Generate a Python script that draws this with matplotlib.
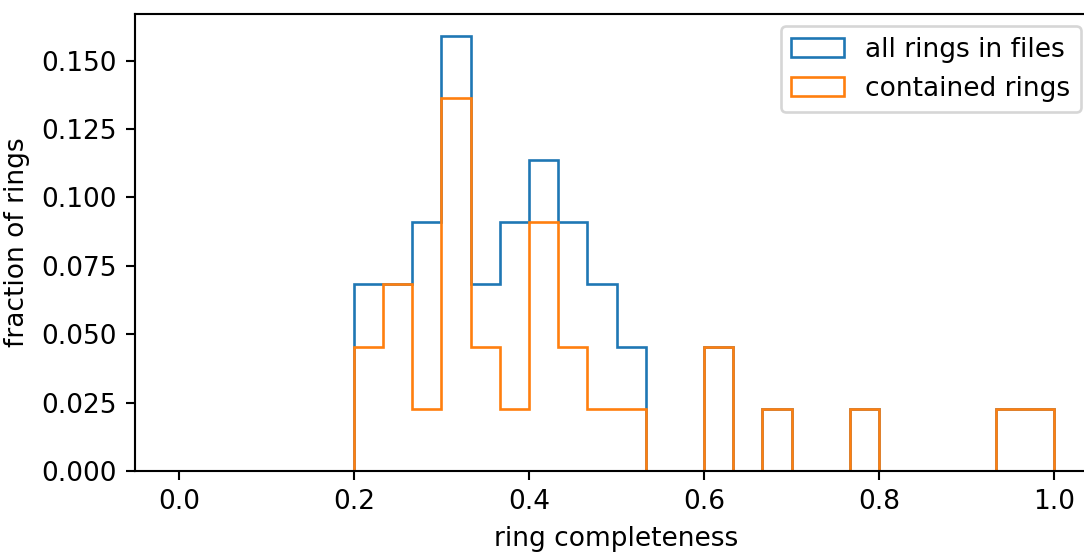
import matplotlib
matplotlib.use("Agg")
import matplotlib.pyplot as plt
import numpy as np

# 30 equal bins on [0, 1], counts (fractions of 44 rings)
N_BINS = 30
TOTAL = 44
all_counts = [0, 0, 0, 0, 0, 0, 3, 3, 4, 7, 3, 4, 5, 4, 3, 2, 0, 0, 2, 0,
              1, 0, 0, 1, 0, 0, 0, 0, 1, 1]
contained_counts = [0, 0, 0, 0, 0, 0, 2, 3, 1, 6, 2, 1, 4, 2, 1, 1, 0, 0, 2, 0,
                    1, 0, 0, 1, 0, 0, 0, 0, 1, 1]
labels = ["all rings in files", "contained rings"]

DPI = 190
bins = np.linspace(0, 1, N_BINS + 1)
centers = (bins[:-1] + bins[1:]) / 2

fig = plt.figure(figsize=(1084 / DPI, 555 / DPI), dpi=DPI)
ax = fig.add_axes([135 / 1084, 84 / 555, 963 / 1084, 457 / 555])

ax.hist(centers, bins=bins, weights=np.array(all_counts) / TOTAL,
        histtype="step", label=labels[0])
ax.hist(centers, bins=bins, weights=np.array(contained_counts) / TOTAL,
        histtype="step", label=labels[1])

ax.set_xlabel("ring completeness")
ax.set_ylabel("fraction of rings")
# the original image is cropped at the right, so pin the legend inside it
ax.legend(loc="upper right", bbox_to_anchor=(1081 / 1084, 1 - 26 / 555),
          bbox_transform=fig.transFigure, borderaxespad=0)

fig.savefig("out.png", dpi=DPI)
